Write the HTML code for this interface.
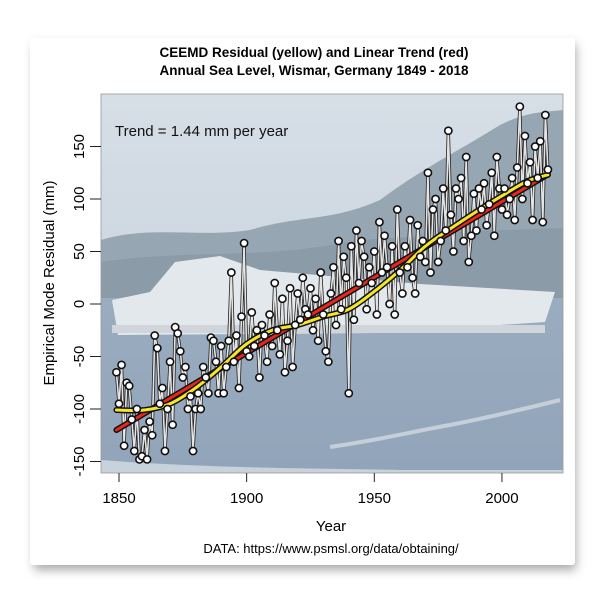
<!DOCTYPE html>
<html><head><meta charset="utf-8"><style>
html,body{margin:0;padding:0;background:#fff;width:606px;height:600px;overflow:hidden}
svg{display:block;font-family:"Liberation Sans",Arial,sans-serif}
</style></head><body>
<svg id="chart" width="606" height="600" viewBox="0 0 606 600">
<defs>
<filter id="sh" x="-10%" y="-10%" width="120%" height="125%"><feGaussianBlur stdDeviation="5"/></filter>
<linearGradient id="sky" x1="0" y1="0" x2="0" y2="1"><stop offset="0" stop-color="#d6dee6"/><stop offset="1" stop-color="#c4d0dc"/></linearGradient>
<linearGradient id="sea" x1="0" y1="0" x2="0" y2="1"><stop offset="0" stop-color="#9aacbf"/><stop offset="1" stop-color="#92a4b9"/></linearGradient>
<clipPath id="pc"><rect x="101" y="94" width="462" height="379"/></clipPath>
</defs>
<rect x="34" y="44" width="542" height="526" fill="#555" opacity="0.5" filter="url(#sh)"/>
<rect x="30" y="38" width="545" height="527" fill="#fff" rx="3"/>
<g clip-path="url(#pc)">
<rect x="101" y="94" width="462" height="379" fill="url(#sky)"/>
<path d="M101 240 C150 225 200 238 250 230 C300 215 330 222 380 200 C420 170 460 150 500 125 C530 110 550 112 563 110 L563 300 L101 300 Z" fill="#97a6b3"/>
<path d="M101 262 C180 250 260 258 330 245 C380 235 420 240 450 232 L563 228 L563 300 L101 300 Z" fill="#8c9ba8"/>
<rect x="101" y="298" width="462" height="175" fill="url(#sea)"/>
<path d="M112 300 L150 292 L175 262 L220 256 L260 270 L420 284 L555 292 L545 322 L380 333 L118 335 Z" fill="#e3e8ec"/>
<rect x="112" y="325" width="433" height="8" fill="#cfd5da"/>
<path d="M101 460 C200 468 300 468 400 470 L563 470 L563 473 L101 473 Z" fill="#c8d2dc"/>
<path d="M330 447 C380 440 420 430 450 425 C500 415 540 405 560 400" stroke="#c4cfda" stroke-width="4" fill="none"/>
</g>
<rect x="101" y="94" width="462" height="379" fill="none" stroke="#999" stroke-width="0.8"/>
<text x="314" y="57" text-anchor="middle" font-size="13.5" font-weight="bold">CEEMD Residual (yellow) and Linear Trend (red)</text>
<text x="314" y="75" text-anchor="middle" font-size="13.5" font-weight="bold">Annual Sea Level, Wismar, Germany 1849 - 2018</text>
<text x="115" y="136" font-size="15" fill="#111">Trend = 1.44 mm per year</text>
<text transform="translate(54,283) rotate(-90)" text-anchor="middle" font-size="15">Empirical Mode Residual (mm)</text>
<text x="331" y="531" text-anchor="middle" font-size="15">Year</text>
<text x="331" y="553" text-anchor="middle" font-size="13">DATA: https://www.psmsl.org/data/obtaining/</text>
<g id="axes"></g>
<g id="marks" clip-path="url(#pc)"></g>
</svg>
<script>
const years=[];for(let y=1849;y<=2018;y++)years.push(y);
const seaLevel=[-65,-95,-58,-135,-75,-78,-110,-140,-100,-148,-145,-120,-148,-112,-125,-30,-42,-95,-80,-140,
-100,-55,-115,-22,-28,-45,-70,-60,-100,-88,-140,-100,-85,-100,-60,-70,-85,-32,-35,-55,
-85,-40,-85,-60,-35,30,-55,-30,-80,-12,58,-45,-50,-8,-40,-25,-70,-20,-30,-55,
-10,-40,20,-25,-48,5,-65,-35,15,-60,-20,10,-15,25,-5,-10,15,-25,5,-35,
30,-10,-45,-55,10,35,-20,60,-5,45,25,-85,55,-15,70,20,60,45,-5,35,
20,50,-10,78,30,65,35,0,55,-10,90,30,10,55,35,80,25,10,75,45,
60,40,125,30,90,100,40,60,110,70,165,85,50,110,100,120,60,140,40,65,
105,70,110,90,115,75,95,125,65,140,110,90,110,85,100,120,80,130,188,100,160,115,135,80,150,120,155,78,180,128];
const residYears=[1849,1860,1870,1880,1890,1900,1910,1920,1930,1940,1950,1960,1970,1980,1990,2000,2010,2018];
const residValues=[-101,-101,-95,-80,-60,-38,-25,-20,-12,-5,12,32,55,72,88,103,117,123];
const trendStart=-120, trendSlope=1.44;
const xTicks=[1850,1900,1950,2000];
const yTicks=[-150,-100,-50,0,50,100,150];
const X=y=>119+(y-1850)*2.553;
const Y=v=>304-v*1.05;
const NS="http://www.w3.org/2000/svg";
function mk(t,a,p){const e=document.createElementNS(NS,t);for(const k in a)e.setAttribute(k,a[k]);p.appendChild(e);return e;}
const ax=document.getElementById('axes'),mg=document.getElementById('marks');
xTicks.forEach(t=>{
 const l=mk('line',{x1:X(t),x2:X(t),y1:473,y2:482,stroke:'#222'},ax);
 
 
 const tx=mk('text',{x:X(t),y:503,'text-anchor':'middle','font-size':15},ax);tx.textContent=t;
 
 
});
yTicks.forEach(t=>{
 const l=mk('line',{x1:90,x2:101,y1:Y(t),y2:Y(t),stroke:'#222'},ax);
 
 
 const tx=mk('text',{transform:`translate(84,${Y(t)}) rotate(-90)`,'text-anchor':'middle','font-size':15},ax);tx.textContent=t;
 
 
});
const pts=years.map((y,i)=>[X(y),Y(seaLevel[i])]);
const d='M'+pts.map(p=>p[0].toFixed(1)+' '+p[1].toFixed(1)).join(' L');
const l1=mk('path',{d:d,stroke:'#222',"stroke-width":3.2,fill:'none','stroke-linejoin':'round'},mg);


const l2=mk('path',{d:d,stroke:'#e4e4e4',"stroke-width":1.6,fill:'none','stroke-linejoin':'round'},mg);


function smooth(xs,ys){const p=xs.map((x,i)=>[X(x),Y(ys[i])]);let s=`M${p[0][0]} ${p[0][1]}`;
 for(let i=0;i<p.length-1;i++){const p0=p[i-1]||p[i],p1=p[i],p2=p[i+1],p3=p[i+2]||p2;
 s+=` C${p1[0]+(p2[0]-p0[0])/6} ${p1[1]+(p2[1]-p0[1])/6} ${p2[0]-(p3[0]-p1[0])/6} ${p2[1]-(p3[1]-p1[1])/6} ${p2[0]} ${p2[1]}`;}return s;}
const td=`M${X(1849)} ${Y(trendStart)} L${X(2018)} ${Y(trendStart+trendSlope*(2018-1849))}`;
const rd=smooth(residYears,residValues);
[[td,'#111',6,'trend-line-outline'],[td,'#e8261c',3,'linear-trend-line'],[rd,'#111',6,'residual-line-outline'],[rd,'#f5e62a',3,'ceemd-residual-line']].forEach(a=>{
 const e=mk('path',{d:a[0],stroke:a[1],'stroke-width':a[2],fill:'none','stroke-linecap':'round'},mg);
 
 
});
pts.forEach(p=>{
 const c=mk('circle',{cx:p[0],cy:p[1],r:3.6,fill:'#fff',stroke:'#111','stroke-width':1.6},mg);
 
 
});
</script>
</body></html>
